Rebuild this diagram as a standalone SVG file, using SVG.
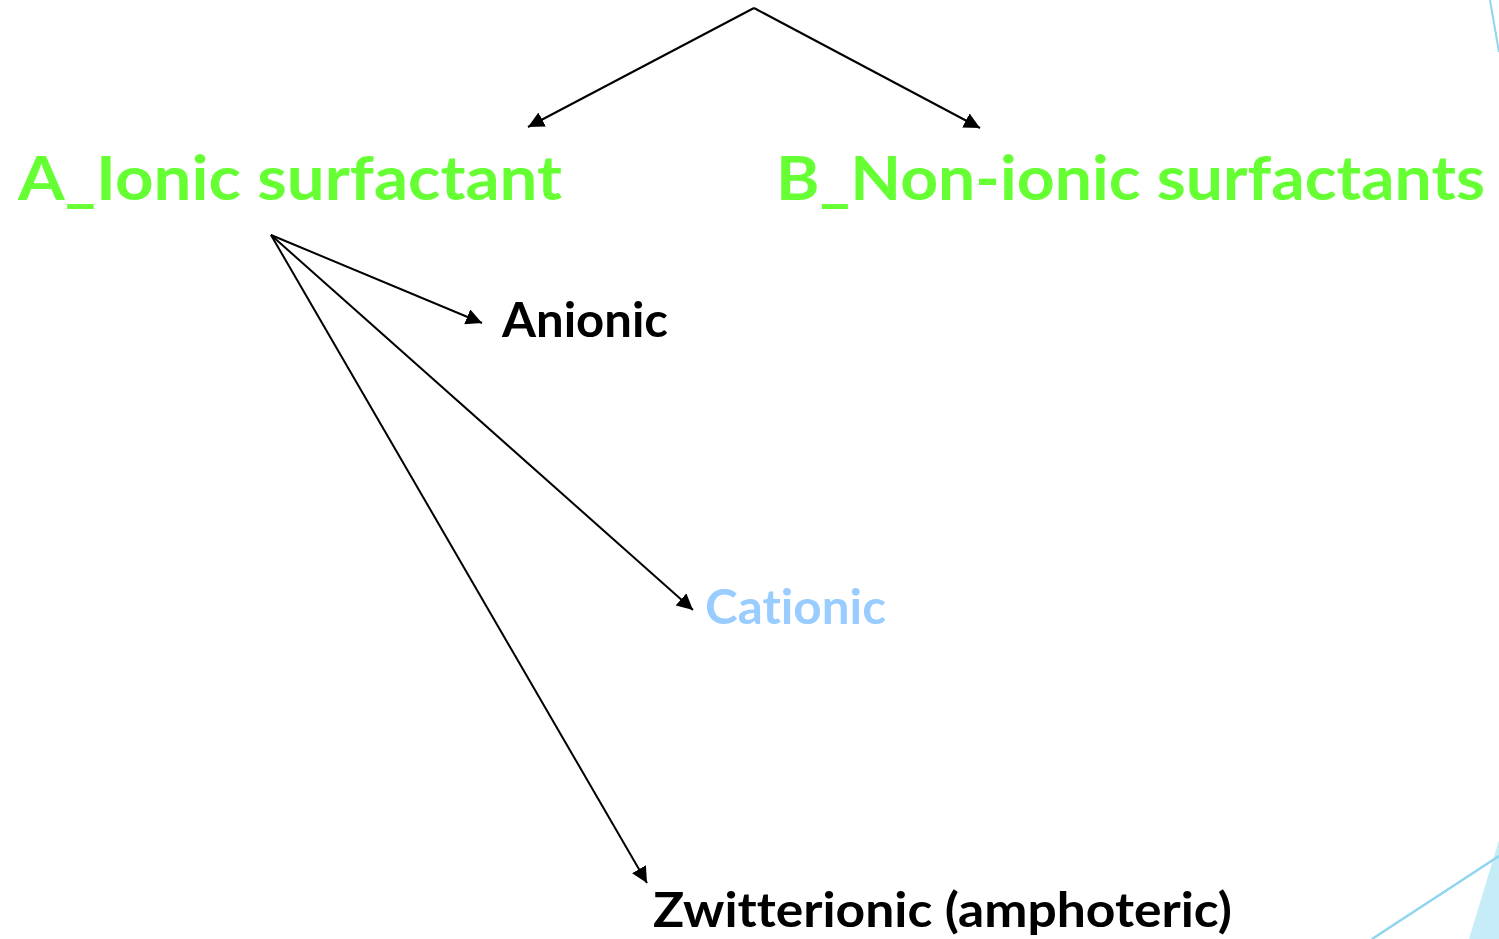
<svg xmlns="http://www.w3.org/2000/svg" width="1499" height="939" viewBox="0 0 1499 939">
<style>
.t{font-family:Lato,"Noto Sans","Liberation Sans",sans-serif;font-weight:bold;font-variant-ligatures:none;font-feature-settings:"liga" 0,"dlig" 0}
.g{fill:#66ff33;font-size:62px}
.k{fill:#000;font-size:48px}
.c{fill:#99ccff;font-size:48px}
</style>
<defs>
<marker id="ah2" viewBox="0 0 10 10" refX="10" refY="5" markerWidth="16" markerHeight="16" markerUnits="userSpaceOnUse" orient="auto">
<path d="M0,0 L10,5 L0,10 z" fill="#000"/>
</marker>
</defs>
<rect width="1499" height="939" fill="#fff"/>
<g id="decor">
<line x1="1490" y1="0" x2="1499" y2="52" stroke="#8fd5ef" stroke-width="2"/>
<polygon points="1469,939 1499,840 1499,939" fill="#c6ecf8"/>
<line x1="1372" y1="939" x2="1499" y2="856" stroke="#8fd5ef" stroke-width="2.5"/>
</g>
<g id="connectors" stroke="#000" stroke-width="2" fill="none">
<line x1="754" y1="8" x2="528" y2="127" marker-end="url(#ah2)"/>
<line x1="754" y1="8" x2="980" y2="128" marker-end="url(#ah2)"/>
<line x1="271" y1="235" x2="482" y2="323" marker-end="url(#ah2)"/>
<line x1="271" y1="235" x2="693" y2="610" marker-end="url(#ah2)"/>
<line x1="271" y1="235" x2="647" y2="883" marker-end="url(#ah2)"/>
</g>
<g id="ionic"><text class="t g" x="18" y="200" textLength="544" lengthAdjust="spacingAndGlyphs">A_Ionic surfactant</text></g>
<g id="nonionic"><text class="t g" x="776" y="200" textLength="709" lengthAdjust="spacingAndGlyphs">B_Non-ionic surfactants</text></g>
<g id="anionic"><text class="t k" x="502" y="337" textLength="166" lengthAdjust="spacingAndGlyphs">Anionic</text></g>
<g id="cationic"><text class="t c" x="705" y="624" textLength="181" lengthAdjust="spacingAndGlyphs">Cationic</text></g>
<g id="zwitterionic"><text class="t k" x="653" y="927" textLength="579" lengthAdjust="spacingAndGlyphs">Zwitterionic (amphoteric)</text></g>
</svg>
